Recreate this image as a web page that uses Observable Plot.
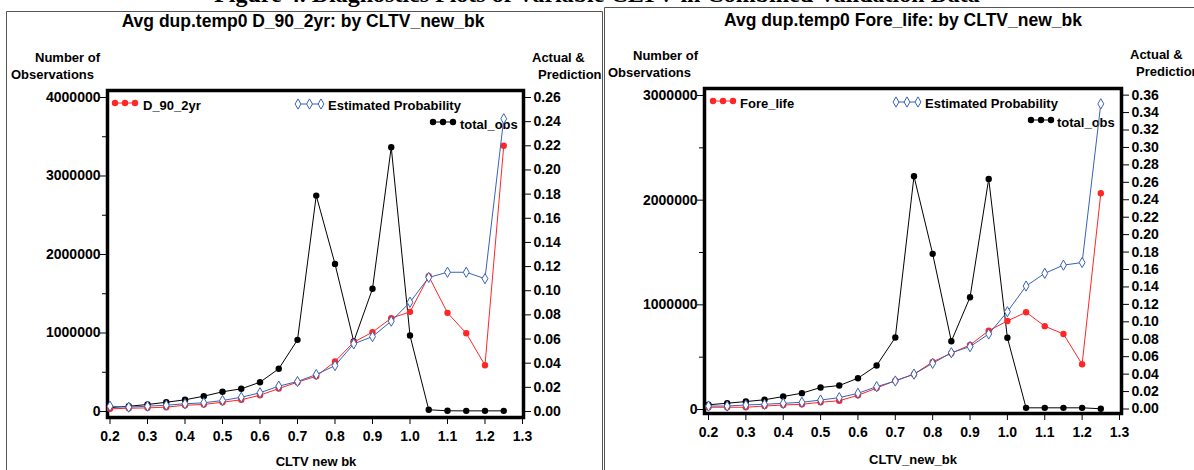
<!DOCTYPE html>
<html>
<head>
<meta charset="utf-8">
<script src="https://cdn.jsdelivr.net/npm/d3@7"></script>
<script src="https://cdn.jsdelivr.net/npm/@observablehq/plot@0.6"></script>
<style>
  html, body { margin: 0; padding: 0; background: #fff; }
  #page { position: relative; width: 1194px; height: 470px; overflow: hidden; background: #fff; }
  #page svg.layer { position: absolute; }
</style>
</head>
<body>
<div id="page"></div>
<script>
// CLTV buckets on the x axis
const cltv = [0.2, 0.25, 0.3, 0.35, 0.4, 0.45, 0.5, 0.55, 0.6, 0.65, 0.7, 0.75,
              0.8, 0.85, 0.9, 0.95, 1.0, 1.05, 1.1, 1.15, 1.2, 1.25];
const xTicks = [0.2, 0.3, 0.4, 0.5, 0.6, 0.7, 0.8, 0.9, 1.0, 1.1, 1.2, 1.3];

// Panel 1: D_90_2yr
const d90Obs = [50000, 67000, 89000, 118000, 149000, 195000, 251000, 289000, 373000, 544000, 913000, 2750000,
                1880000, 892000, 1563000, 3367000, 968000, 22000, 9000, 8000, 8000, 8000];
const d90Actual = [0.0022, 0.0027, 0.0030, 0.0036, 0.0052, 0.0058, 0.0077, 0.0097, 0.0135, 0.0190, 0.0243, 0.0292,
                   0.0414, 0.0574, 0.0657, 0.0773, 0.0825, 0.1120, 0.0817, 0.0648, 0.0383, 0.2200];
const d90Est = [0.0044, 0.0036, 0.0044, 0.0052, 0.0064, 0.0072, 0.0091, 0.0118, 0.0155, 0.0210, 0.0248, 0.0306,
                0.0380, 0.0560, 0.0620, 0.0748, 0.0905, 0.1110, 0.1153, 0.1153, 0.1100, 0.2424];
const d90ObsTicks = [0, 1000000, 2000000, 3000000, 4000000];
const d90ObsMinor = [500000, 1500000, 2500000, 3500000];
const d90ProbTicks = [0, 0.02, 0.04, 0.06, 0.08, 0.10, 0.12, 0.14, 0.16, 0.18, 0.20, 0.22, 0.24, 0.26];

// Panel 2: Fore_life
const foreObs = [45000, 60000, 76000, 93000, 124000, 156000, 210000, 229000, 299000, 420000, 688000, 2228000,
                 1487000, 652000, 1073000, 2203000, 685000, 16000, 16000, 16000, 16000, 7000];
const foreActual = [0.0020, 0.0020, 0.0020, 0.0034, 0.0046, 0.0054, 0.0077, 0.0095, 0.0157, 0.0240, 0.0325, 0.0400,
                    0.0540, 0.0640, 0.0734, 0.0898, 0.1010, 0.1110, 0.0950, 0.0860, 0.0513, 0.2474];
const foreEst = [0.0034, 0.0034, 0.0046, 0.0054, 0.0065, 0.0077, 0.0103, 0.0130, 0.0180, 0.0256, 0.0321, 0.0400,
                 0.0524, 0.0646, 0.0715, 0.0860, 0.1116, 0.1410, 0.1556, 0.1650, 0.1680, 0.3500];
const foreObsTicks = [0, 1000000, 2000000, 3000000];
const foreObsMinor = [500000, 1500000, 2500000];
const foreProbTicks = [0, 0.02, 0.04, 0.06, 0.08, 0.10, 0.12, 0.14, 0.16, 0.18, 0.20, 0.22, 0.24, 0.26,
                       0.28, 0.30, 0.32, 0.34, 0.36];

const RED = "#ff2626";
const BLUE = "#3a62b8";
const SANS = "'Liberation Sans', Arial, Helvetica, sans-serif";
const DIAMOND_R = 3.1;
const page = document.getElementById("page");

// ---- background layer: frames around each panel and all captions ----
const bg = d3.select(page).append("svg").attr("class", "layer")
  .attr("width", 1194).attr("height", 470).style("left", "0px").style("top", "0px");

bg.append("text").attr("x", 597).attr("y", 2).attr("text-anchor", "middle")
  .style("font-family", "'Liberation Serif', 'Times New Roman', serif")
  .style("font-weight", "bold").style("font-size", "24px")
  .text("Figure 4. Diagnostics Plots of Variable CLTV in Combined Validation Data");

bg.append("path").attr("d", "M6.5,480 V11.5 H602.5 V480")
  .attr("fill", "none").attr("stroke", "#555").attr("stroke-width", 1);
bg.append("path").attr("d", "M604.5,480 V7.5 H1200")
  .attr("fill", "none").attr("stroke", "#555").attr("stroke-width", 1);

function label(x, y, txt, size, anchor = "start") {
  bg.append("text").attr("x", x).attr("y", y).attr("text-anchor", anchor)
    .style("font-family", SANS).style("font-weight", "bold").style("font-size", size + "px")
    .text(txt);
}

function legendEntry(x0, x1, y, kind, color, tx, ty, txt) {
  const g = bg.append("g");
  g.append("line").attr("x1", x0).attr("x2", x1).attr("y1", y).attr("y2", y)
    .attr("stroke", color).attr("stroke-width", 1);
  const xs = [x0, (x0 + x1) / 2, x1];
  const r = kind === "diamond" ? DIAMOND_R : 3.2;
  const sym = d3.symbol(kind === "diamond" ? d3.symbolDiamond : d3.symbolCircle, r * r * Math.PI);
  xs.forEach(px => {
    g.append("path").attr("d", sym()).attr("transform", `translate(${px},${y})`)
      .attr("fill", kind === "diamond" ? "white" : color)
      .attr("stroke", color).attr("stroke-width", kind === "diamond" ? 1 : 0);
  });
  label(tx, ty, txt, 13);
}

// ---- one panel = two overlaid Plot charts sharing x (counts on the left, rates on the right) ----
function panel(cfg) {
  const rows = cltv.map((c, i) => ({c, obs: cfg.obs[i], act: cfg.act[i], est: cfg.est[i]}));
  const common = {
    width: cfg.width, height: 470,
    marginLeft: cfg.ml, marginRight: cfg.mr, marginTop: cfg.mt, marginBottom: cfg.mb,
    style: {background: "transparent", fontFamily: SANS, fontWeight: "bold", fontSize: "14px", color: "black", overflow: "visible"}
  };

  const counts = Plot.plot({
    ...common,
    x: {domain: cfg.xDomain},
    y: {domain: cfg.obsDomain},
    marks: [
      Plot.axisX({ticks: xTicks, tickSize: 7, tickPadding: 7, tickFormat: d3.format(".1f"), label: null}),
      Plot.axisY(cfg.obsMinor, {tickSize: 5, text: null, label: null}),
      Plot.axisY({ticks: cfg.obsTicks, tickSize: 7, tickPadding: 0, tickFormat: d => String(d), label: null}),
      Plot.line(rows, {x: "c", y: "obs", stroke: "black", strokeWidth: 1}),
      Plot.dot(rows, {x: "c", y: "obs", fill: "black", r: 3.2}),
      Plot.frame({stroke: "black", strokeWidth: 3.5})
    ]
  });

  const rates = Plot.plot({
    ...common,
    x: {domain: cfg.xDomain, axis: null},
    y: {domain: cfg.probDomain},
    marks: [
      Plot.axisY({anchor: "right", ticks: cfg.probTicks, tickSize: 7, tickPadding: 3, tickFormat: d3.format(".2f"), label: null}),
      Plot.line(rows, {x: "c", y: "act", stroke: RED, strokeWidth: 1}),
      Plot.dot(rows, {x: "c", y: "act", fill: RED, r: 3.2}),
      Plot.line(rows, {x: "c", y: "est", stroke: BLUE, strokeWidth: 1}),
      Plot.dot(rows, {x: "c", y: "est", symbol: d3.symbolDiamond, fill: "white", stroke: BLUE, strokeWidth: 1, r: DIAMOND_R})
    ]
  });

  for (const svg of [counts, rates]) {
    svg.classList.add("layer");
    svg.style.left = cfg.left + "px";
    svg.style.top = "0px";
    page.appendChild(svg);
  }
}

// Left panel captions
label(303, 27, "Avg dup.temp0 D_90_2yr: by CLTV_new_bk", 17.5, "middle");
label(100, 62, "Number of", 13, "end");
label(94, 79, "Observations", 13, "end");
label(532, 62, "Actual &", 13);
label(538, 79, "Prediction", 13);
label(316, 466, "CLTV new bk", 13, "middle");
legendEntry(115, 135, 103, "circle", RED, 143, 110, "D_90_2yr");
legendEntry(298, 321, 104, "diamond", BLUE, 328, 110, "Estimated Probability");
legendEntry(433, 453, 122, "circle", "black", 460, 129, "total_obs");

// Right panel captions
label(903, 26, "Avg dup.temp0 Fore_life: by CLTV_new_bk", 17.5, "middle");
label(698, 60, "Number of", 13, "end");
label(691, 77, "Observations", 13, "end");
label(1130, 59, "Actual &", 13);
label(1136, 76, "Prediction", 13);
label(913, 464, "CLTV_new_bk", 13, "middle");
legendEntry(713, 733, 101, "circle", RED, 740, 108, "Fore_life");
legendEntry(896, 918, 102, "diamond", BLUE, 925, 108, "Estimated Probability");
legendEntry(1031, 1051, 120, "circle", "black", 1057, 127, "total_obs");

panel({
  left: 0, width: 600, ml: 107, mr: 77, mt: 90, mb: 53,
  xDomain: [0.1933, 1.3027],
  obs: d90Obs, act: d90Actual, est: d90Est,
  obsDomain: [-76400, 4089000], obsTicks: d90ObsTicks, obsMinor: d90ObsMinor,
  probDomain: [-0.00497, 0.2658], probTicks: d90ProbTicks
});

panel({
  left: 600, width: 594, ml: 104, mr: 73, mt: 88, mb: 57,
  xDomain: [0.1893, 1.3054],
  obs: foreObs, act: foreActual, est: foreEst,
  obsDomain: [-38200, 3066900], obsTicks: foreObsTicks, obsMinor: foreObsMinor,
  probDomain: [-0.00516, 0.3676], probTicks: foreProbTicks
});
</script>
</body>
</html>
